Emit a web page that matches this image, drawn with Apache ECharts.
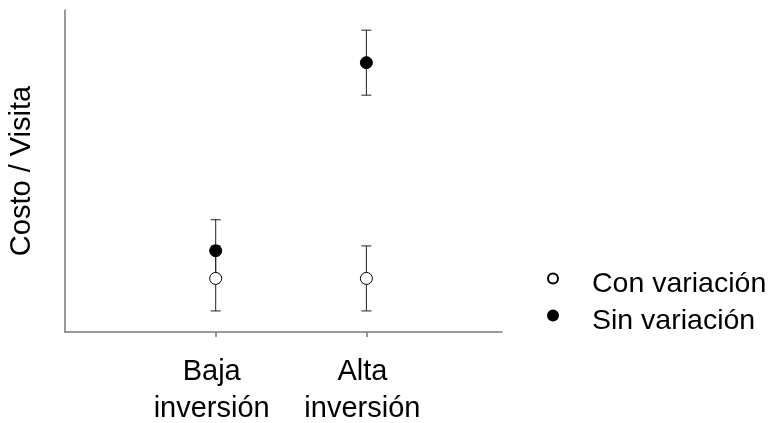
<!DOCTYPE html>
<html><head><meta charset="utf-8">
<script src="https://cdn.jsdelivr.net/npm/echarts@6/dist/echarts.min.js"></script>
<style>html,body{margin:0;padding:0;background:#fff}#c{width:772px;height:423px}</style>
</head><body><div id="c"></div>
<script>
const categories = ['Baja\ninversión', 'Alta\ninversión'];
const catPositions = [1, 2];
const conValues = [1.78, 1.78];
const conErrors = [1.08, 1.08];
const sinValues = [2.7, 8.95];
const sinErrors = [1.03, 1.08];
const seriesNames = ['Con variación', 'Sin variación'];
const yAxisName = 'Costo / Visita';

const FONT = '"Liberation Sans", Arial, sans-serif';
// circle icon sitting in the upper part of its legend box
const LEGEND_ICON = 'path://M0 5A5 5 0 1 1 10 5A5 5 0 1 1 0 5ZM5 21L5 21';

function errData(vals, errs) {
  return vals.map((v, i) => [catPositions[i], v - errs[i], v + errs[i]]);
}
function errRender(params, api) {
  const x = api.value(0);
  const lo = api.coord([x, api.value(1)]);
  const hi = api.coord([x, api.value(2)]);
  const w = 5;
  const style = { stroke: '#222', lineWidth: 1 };
  return {
    type: 'group',
    children: [
      { type: 'line', shape: { x1: lo[0], y1: lo[1], x2: hi[0], y2: hi[1] }, style },
      { type: 'line', shape: { x1: lo[0] - w, y1: lo[1], x2: lo[0] + w, y2: lo[1] }, style },
      { type: 'line', shape: { x1: hi[0] - w, y1: hi[1], x2: hi[0] + w, y2: hi[1] }, style }
    ]
  };
}

const chart = echarts.init(document.getElementById('c'), null, { renderer: 'canvas' });
chart.setOption({
  animation: false,
  backgroundColor: '#fff',
  grid: { left: 65, right: 270, top: 10, bottom: 91, containLabel: false, outerBoundsMode: 'none' },
  xAxis: {
    type: 'value', min: 0, max: 2.9, interval: 1,
    splitLine: { show: false },
    axisLine: { lineStyle: { color: '#777', width: 1.5 } },
    axisTick: { show: true, length: 5, customValues: catPositions, lineStyle: { color: '#777', width: 1.5 } },
    axisLabel: {
      customValues: catPositions,
      formatter: v => { const i = catPositions.indexOf(v); return i >= 0 ? categories[i] : ''; },
      fontFamily: FONT, fontSize: 29, color: '#000', lineHeight: 37, margin: 21,
      padding: [0, 8, 0, 0]
    }
  },
  yAxis: {
    type: 'value', min: 0, max: 10.7,
    name: yAxisName, nameLocation: 'middle', nameGap: 29,
    nameTextStyle: { fontFamily: FONT, fontSize: 29, color: '#000' },
    splitLine: { show: false },
    axisLine: { show: true, lineStyle: { color: '#777', width: 1.5 } },
    axisTick: { show: false },
    axisLabel: { show: false }
  },
  legend: {
    orient: 'vertical', left: 542, top: 264,
    itemWidth: 10, itemHeight: 21, itemGap: 7,
    icon: LEGEND_ICON,
    textStyle: { fontFamily: FONT, fontSize: 28.5, color: '#000', lineHeight: 30, padding: [0, 0, 0, 29] },
    data: seriesNames
  },
  series: [
    { type: 'custom', name: 'errCon', renderItem: errRender, data: errData(conValues, conErrors), z: 1, encode: { x: 0, y: [1, 2] } },
    { type: 'custom', name: 'errSin', renderItem: errRender, data: errData(sinValues, sinErrors), z: 1, encode: { x: 0, y: [1, 2] } },
    {
      type: 'scatter', name: seriesNames[1], symbol: 'circle', symbolSize: 12, z: 3,
      itemStyle: { color: '#000', borderColor: '#000', borderWidth: 1, opacity: 1 },
      data: sinValues.map((v, i) => [catPositions[i], v])
    },
    {
      type: 'scatter', name: seriesNames[0], symbol: 'circle', symbolSize: 12, z: 4,
      itemStyle: { color: '#fff', borderColor: '#000', borderWidth: 1, opacity: 1 },
      data: conValues.map((v, i) => [catPositions[i], v])
    }
  ]
});
</script></body></html>
